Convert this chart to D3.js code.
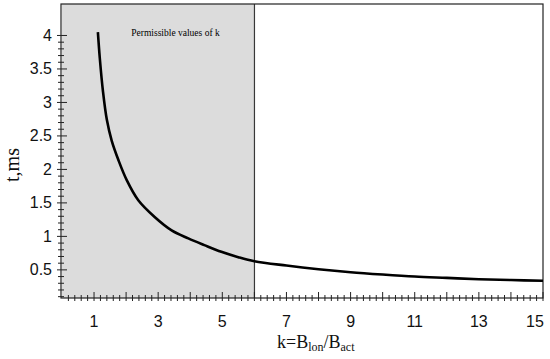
<!DOCTYPE html>
<html>
<head>
<meta charset="utf-8">
<script src="https://cdn.jsdelivr.net/npm/d3@7"></script>
<style>
    body { margin: 0; background: #fff; }
    svg { display: block; }
    .tick-label { font-family: "Liberation Sans", Arial, sans-serif; font-size: 16px; fill: #111; }
    .axis-title { font-family: "Liberation Serif", "Times New Roman", serif; fill: #111; }
</style>
</head>
<body>
<div id="chart"></div>
<script>
// data
const kValues = [1.12, 1.18, 1.28, 1.40, 1.55, 1.76, 2.02, 2.38, 2.89, 3.42, 3.94, 4.44, 4.97, 5.50, 6, 7, 8, 9, 10, 11, 12, 13, 14, 15];
const tValues = [4.05, 3.66, 3.16, 2.74, 2.43, 2.14, 1.84, 1.54, 1.29, 1.09, 0.97, 0.87, 0.77, 0.69, 0.63, 0.565, 0.51, 0.465, 0.43, 0.40, 0.38, 0.36, 0.348, 0.338];
const xTickLabels = [1, 3, 5, 7, 9, 11, 13, 15];
const yTickLabels = [0.5, 1, 1.5, 2, 2.5, 3, 3.5, 4];
const permissibleRange = [0, 6];
const regionLabel = "Permissible values of k";

const width = 550,
    height = 359,
    margin = { left: 61, right: 7, top: 4, bottom: 61 },
    innerWidth = width - margin.left - margin.right,
    innerHeight = height - margin.top - margin.bottom;

const data = kValues.map((k, i) => ({ k: k, t: tValues[i] }));

const svg = d3.select("#chart").append("svg")
    .attr("width", width)
    .attr("height", height);

const g = svg.append("g")
    .attr("transform", "translate(" + margin.left + "," + margin.top + ")");

// Scales
const xScale = d3.scaleLinear()
    .domain([-0.03, 15])
    .range([0, innerWidth]);

const yScale = d3.scaleLinear()
    .domain([0.08, 4.47])
    .range([innerHeight, 0]);

// shaded region
g.append("rect")
    .attr("x", Math.max(0, xScale(permissibleRange[0])))
    .attr("y", 0)
    .attr("width", xScale(permissibleRange[1]))
    .attr("height", innerHeight)
    .attr("fill", "#dcdcdc");

g.append("line")
    .attr("x1", xScale(permissibleRange[1]))
    .attr("x2", xScale(permissibleRange[1]))
    .attr("y1", 0)
    .attr("y2", innerHeight)
    .attr("stroke", "#222")
    .attr("stroke-width", 1);

g.append("text")
    .attr("x", xScale(3.54))
    .attr("y", yScale(4.0) + 1)
    .attr("text-anchor", "middle")
    .style("font-family", "'Liberation Serif', 'Times New Roman', serif")
    .style("font-size", "9.5px")
    .attr("fill", "#000")
    .text(regionLabel);

// frame
g.append("rect")
    .attr("width", innerWidth)
    .attr("height", innerHeight)
    .attr("fill", "none")
    .attr("stroke", "#222")
    .attr("stroke-width", 1.2);

// x ticks: major every 1, minor every 0.2, crossing the axis line
const xMinor = d3.range(0.2, 15, 0.2).filter(v => Math.abs(v - Math.round(v)) > 0.01);
const xMajor = d3.range(1, 16, 1);

g.append("g").selectAll("line")
    .data(xMinor)
    .enter().append("line")
    .attr("x1", d => xScale(d)).attr("x2", d => xScale(d))
    .attr("y1", innerHeight - 3).attr("y2", innerHeight + 3)
    .attr("stroke", "#222");

g.append("g").selectAll("line")
    .data(xMajor)
    .enter().append("line")
    .attr("x1", d => xScale(d)).attr("x2", d => xScale(d))
    .attr("y1", innerHeight - 6).attr("y2", innerHeight + 3)
    .attr("stroke", "#222");

g.append("g").selectAll("text")
    .data(xTickLabels)
    .enter().append("text")
    .attr("class", "tick-label")
    .attr("x", d => d === 15 ? xScale(d) - 8 : xScale(d))
    .attr("y", innerHeight + 29)
    .attr("text-anchor", "middle")
    .text(d => d);

// y ticks: major every 0.5, minor every 0.1
const yMinor = d3.range(0.1, 4.05, 0.1).filter(v => Math.abs(v * 2 - Math.round(v * 2)) > 0.01);

g.append("g").selectAll("line")
    .data(yMinor)
    .enter().append("line")
    .attr("x1", -3).attr("x2", 3)
    .attr("y1", d => yScale(d)).attr("y2", d => yScale(d))
    .attr("stroke", "#222");

g.append("g").selectAll("line")
    .data(yTickLabels)
    .enter().append("line")
    .attr("x1", -4).attr("x2", 6)
    .attr("y1", d => yScale(d)).attr("y2", d => yScale(d))
    .attr("stroke", "#222");

g.append("g").selectAll("text")
    .data(yTickLabels)
    .enter().append("text")
    .attr("class", "tick-label")
    .attr("x", -9)
    .attr("y", d => yScale(d) + 5.5)
    .attr("text-anchor", "end")
    .text(d => d);

// curve
const line = d3.line()
    .x(d => xScale(d.k))
    .y(d => yScale(d.t))
    .curve(d3.curveCatmullRom.alpha(0.5));

g.append("path")
    .datum(data)
    .attr("d", line)
    .attr("fill", "none")
    .attr("stroke", "#000")
    .attr("stroke-width", 2.6);

// axis titles
svg.append("text")
    .attr("class", "axis-title")
    .attr("transform", "translate(19,165) rotate(-90)")
    .attr("text-anchor", "middle")
    .style("font-size", "20px")
    .text("t,ms");

const xTitle = svg.append("text")
    .attr("class", "axis-title")
    .attr("x", 277)
    .attr("y", 348)
    .style("font-size", "18px");

xTitle.append("tspan").text("k=B");
xTitle.append("tspan").attr("dy", 3).style("font-size", "12px").text("lon");
xTitle.append("tspan").attr("dy", -3).text("/B");
xTitle.append("tspan").attr("dy", 3).style("font-size", "12px").text("act");
</script>
</body>
</html>
